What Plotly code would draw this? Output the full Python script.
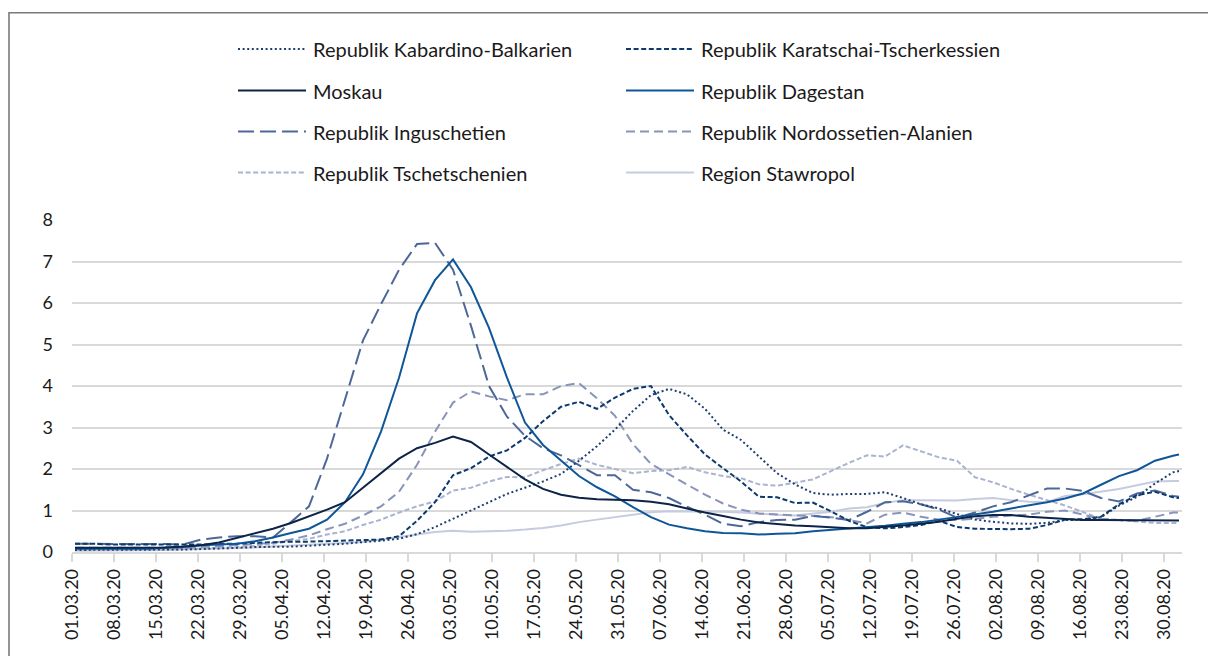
import pandas as pd
import plotly.graph_objects as go

# ---------------- data ----------------
# x grid: every 3rd day from 01.03.2020 plus 01.09.2020 (points centred at noon)
dates = list(pd.date_range("2020-03-01 12:00", periods=62, freq="3D")) + [pd.Timestamp("2020-09-01 12:00")]

tick_dates = list(pd.date_range("2020-03-01", "2020-08-30", freq="7D"))
tick_labels = ["01.03.20", "08.03.20", "15.03.20", "22.03.20", "29.03.20", "05.04.20", "12.04.20",
               "19.04.20", "26.04.20", "03.05.20", "10.05.20", "17.05.20", "24.05.20", "31.05.20",
               "07.06.20", "14.06.20", "21.06.20", "28.06.20", "05.07.20", "12.07.20", "19.07.20",
               "26.07.20", "02.08.20", "09.08.20", "16.08.20", "23.08.20", "30.08.20"]

kabardino = [0.05, 0.05, 0.05, 0.05, 0.05, 0.05, 0.06, 0.07, 0.08, 0.1,
             0.12, 0.12, 0.13, 0.15, 0.17, 0.2, 0.24, 0.27, 0.32, 0.43,
             0.6, 0.8, 1.0, 1.2, 1.4, 1.55, 1.7, 1.88, 2.2, 2.55,
             2.95, 3.4, 3.78, 3.93, 3.8, 3.45, 2.95, 2.7, 2.3, 1.9,
             1.63, 1.42, 1.38, 1.4, 1.4, 1.44, 1.3, 1.15, 1.05, 0.92,
             0.78, 0.73, 0.69, 0.68, 0.7, 0.77, 0.77, 0.84, 1.12, 1.33,
             1.65, 1.92, 1.95]

karatschai = [0.2, 0.2, 0.18, 0.18, 0.17, 0.17, 0.17, 0.18, 0.2, 0.2,
              0.22, 0.24, 0.25, 0.25, 0.26, 0.28, 0.28, 0.3, 0.38, 0.75,
              1.2, 1.85, 2.02, 2.3, 2.45, 2.75, 3.15, 3.5, 3.62, 3.45,
              3.72, 3.93, 4.0, 3.3, 2.81, 2.35, 2.02, 1.7, 1.33, 1.32,
              1.18, 1.19, 0.98, 0.75, 0.6, 0.57, 0.6, 0.65, 0.75, 0.6,
              0.56, 0.55, 0.55, 0.56, 0.65, 0.78, 0.79, 0.85, 1.15, 1.37,
              1.45, 1.32, 1.3]

moskau = [0.1, 0.1, 0.1, 0.1, 0.1, 0.11, 0.13, 0.16, 0.23, 0.34,
          0.45, 0.56, 0.7, 0.86, 1.02, 1.2, 1.55, 1.88, 2.25, 2.5,
          2.63, 2.78, 2.65, 2.35, 2.05, 1.75, 1.52, 1.38, 1.31, 1.27,
          1.26, 1.25, 1.21, 1.15, 1.05, 0.95, 0.87, 0.78, 0.71, 0.67,
          0.64, 0.62, 0.6, 0.57, 0.57, 0.6, 0.64, 0.68, 0.73, 0.8,
          0.86, 0.89, 0.89, 0.85, 0.82, 0.8, 0.77, 0.77, 0.77, 0.77,
          0.76, 0.76, 0.76]

dagestan = [0.08, 0.08, 0.07, 0.07, 0.08, 0.1, 0.12, 0.16, 0.18, 0.2,
            0.26, 0.35, 0.46, 0.56, 0.78, 1.2, 1.87, 2.9, 4.2, 5.75,
            6.55, 7.05, 6.38, 5.4, 4.2, 3.12, 2.58, 2.2, 1.83, 1.56,
            1.34, 1.08, 0.84, 0.66, 0.57, 0.5, 0.46, 0.45, 0.42, 0.44,
            0.45, 0.5, 0.53, 0.56, 0.59, 0.63, 0.68, 0.72, 0.78, 0.84,
            0.9, 0.97, 1.05, 1.12, 1.2, 1.29, 1.41, 1.62, 1.83, 1.97,
            2.2, 2.32, 2.35]

inguschetien = [0.2, 0.2, 0.19, 0.2, 0.2, 0.19, 0.18, 0.3, 0.35, 0.38,
                0.38, 0.35, 0.72, 1.1, 2.25, 3.7, 5.1, 5.97, 6.8, 7.42,
                7.45, 6.8, 5.45, 4.0, 3.26, 2.8, 2.5, 2.33, 2.1, 1.85,
                1.85, 1.5, 1.44, 1.3, 1.09, 0.9, 0.68, 0.62, 0.72, 0.77,
                0.78, 0.87, 0.83, 0.77, 0.97, 1.2, 1.22, 1.15, 1.02, 0.83,
                0.95, 1.1, 1.2, 1.37, 1.53, 1.53, 1.47, 1.3, 1.22, 1.41,
                1.48, 1.35, 1.33]

nordossetien = [0.1, 0.1, 0.1, 0.1, 0.1, 0.1, 0.1, 0.12, 0.15, 0.17,
                0.19, 0.22, 0.3, 0.4, 0.55, 0.68, 0.88, 1.1, 1.45, 2.1,
                2.9, 3.6, 3.87, 3.75, 3.66, 3.8, 3.8, 4.0, 4.07, 3.7,
                3.28, 2.6, 2.12, 1.87, 1.62, 1.38, 1.17, 1.02, 0.93, 0.9,
                0.88, 0.87, 0.84, 0.77, 0.69, 0.9, 0.95, 0.85, 0.78, 0.77,
                0.8, 0.85, 0.87, 0.9, 0.97, 1.0, 0.9, 0.8, 0.77, 0.75,
                0.85, 0.95, 0.95]

tschetschenien = [0.05, 0.05, 0.05, 0.05, 0.05, 0.06, 0.07, 0.08, 0.1, 0.12,
                  0.15, 0.2, 0.26, 0.32, 0.42, 0.5, 0.65, 0.78, 0.95, 1.1,
                  1.22, 1.48, 1.55, 1.7, 1.81, 1.8, 1.97, 2.12, 2.25, 2.1,
                  2.0, 1.9, 1.95, 1.97, 2.05, 1.92, 1.83, 1.78, 1.63, 1.6,
                  1.67, 1.75, 1.95, 2.15, 2.33, 2.3, 2.57, 2.42, 2.28, 2.2,
                  1.8, 1.68, 1.52, 1.38, 1.25, 1.12, 0.96, 0.8, 0.77, 0.73,
                  0.7, 0.7, 0.7]

stawropol = [0.03, 0.03, 0.03, 0.03, 0.04, 0.05, 0.06, 0.07, 0.08, 0.1,
             0.11, 0.13, 0.15, 0.17, 0.2, 0.22, 0.24, 0.3, 0.36, 0.42,
             0.48, 0.51, 0.49, 0.5, 0.51, 0.54, 0.58, 0.64, 0.72, 0.78,
             0.84, 0.9, 0.96, 0.98, 0.98, 0.98, 0.97, 0.95, 0.92, 0.9,
             0.88, 0.92, 0.97, 1.05, 1.08, 1.18, 1.25, 1.25, 1.25, 1.24,
             1.28, 1.3, 1.25, 1.21, 1.2, 1.35, 1.39, 1.45, 1.52, 1.61,
             1.7, 1.71, 1.71]

series_names = ["Republik Kabardino-Balkarien", "Republik Karatschai-Tscherkessien",
                "Moskau", "Republik Dagestan",
                "Republik Inguschetien", "Republik Nordossetien-Alanien",
                "Republik Tschetschenien", "Region Stawropol"]
series_values = [kabardino, karatschai, moskau, dagestan,
                 inguschetien, nordossetien, tschetschenien, stawropol]

# ---------------- styles ----------------
styles = [
    dict(color="#1f3f70", dash="2px,2.6px", width=2),
    dict(color="#0c3a6c", dash="5px,2.6px", width=2),
    dict(color="#0b2447", dash="solid", width=2),
    dict(color="#0f5699", dash="solid", width=2),
    dict(color="#4d6898", dash="16px,6px", width=2),
    dict(color="#8894b9", dash="9px,5px", width=2),
    dict(color="#aab3cf", dash="5px,2.6px", width=2),
    dict(color="#c6cbe0", dash="solid", width=2),
]

FONT = "Lato, 'Open Sans', sans-serif"
W, H = 1208, 656
L, R, T, B = 72, 26, 220, 104
PW, PH = W - L - R, H - T - B


def px_x(p):
    return (p - L) / PW


def px_y(p):
    return (T + PH - p) / PH


fig = go.Figure()
# lightest first so the darker lines sit on top
for i in [7, 6, 5, 4, 0, 1, 3, 2]:
    st = styles[i]
    fig.add_trace(go.Scatter(
        x=dates, y=series_values[i], mode="lines", name=series_names[i],
        line=dict(color=st["color"], dash=st["dash"], width=st["width"]),
        showlegend=False, hoverinfo="x+y+name"))

# ---------------- two-column legend ----------------
shapes = []
annotations = []
col_line = [(238, 306), (626, 694)]
col_text = [311, 699]
row_y = [49, 90.5, 131.5, 172.5]
for i, name in enumerate(series_names):
    r, c = divmod(i, 2)
    st = styles[i]
    shapes.append(dict(type="line", xref="paper", yref="paper",
                       x0=px_x(col_line[c][0]), x1=px_x(col_line[c][1]),
                       y0=px_y(row_y[r]), y1=px_y(row_y[r]),
                       line=dict(color=st["color"], dash=st["dash"], width=st["width"])))
    annotations.append(dict(xref="paper", yref="paper", x=px_x(col_text[c]), y=px_y(row_y[r]),
                            xanchor="left", yanchor="middle", showarrow=False, text=name,
                            font=dict(family=FONT, size=20, color="#1a1a1a")))

# outer frame of the figure box (continues beyond the right and bottom edge)
shapes.append(dict(type="rect", xref="paper", yref="paper",
                   x0=px_x(9), x1=px_x(W + 20), y0=px_y(H + 20), y1=px_y(12.7),
                   line=dict(color="#7a7a7a", width=1.6), fillcolor="rgba(0,0,0,0)", layer="above"))

fig.update_layout(
    width=W, height=H,
    margin=dict(l=L, r=R, t=T, b=B, pad=0),
    paper_bgcolor="white", plot_bgcolor="white",
    showlegend=False,
    font=dict(family=FONT, color="#1a1a1a"),
    shapes=shapes, annotations=annotations,
)
fig.update_xaxes(
    type="date", range=["2020-03-01", "2020-09-02"],
    tickvals=tick_dates, ticktext=tick_labels, tickangle=-90,
    showgrid=False, zeroline=False,
    showline=True, linecolor="#d9d9d9", linewidth=1.5,
    ticks="outside", ticklen=8, tickwidth=1.5, tickcolor="#d9d9d9",
    tickfont=dict(family=FONT, size=18, color="#1a1a1a"),
    ticklabelstandoff=0,
)
fig.update_yaxes(
    range=[0, 8], dtick=1, tick0=0,
    showgrid=True, gridcolor="#d9d9d9", gridwidth=1.5,
    zeroline=False, showline=False, ticks="",
    tickfont=dict(family=FONT, size=18, color="#1a1a1a"),
    ticklabelstandoff=18,
)

fig.write_html("out.html", config={"displayModeBar": False},
               post_script="document.body.style.margin='0';")
